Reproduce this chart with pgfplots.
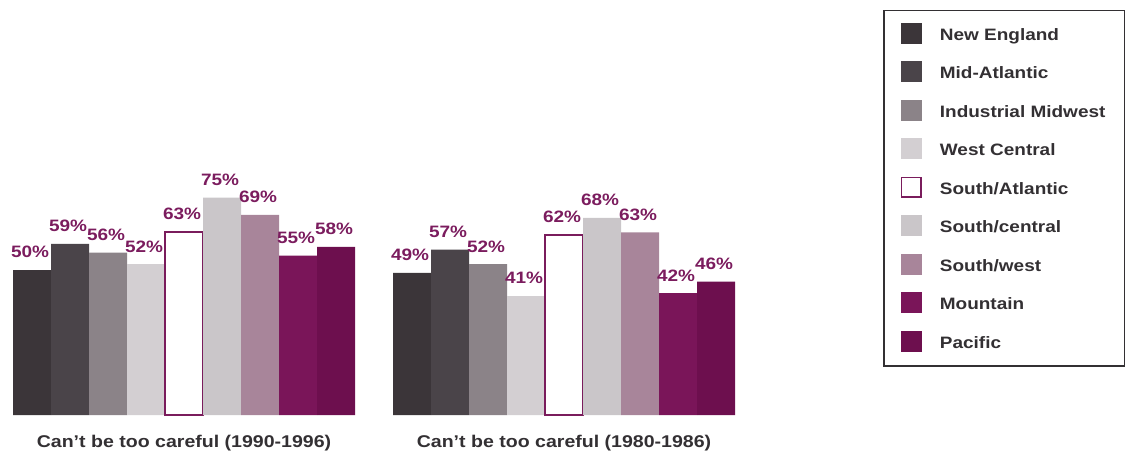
\documentclass[border=0pt]{standalone}
\usepackage{fontspec}
\setmainfont{Liberation Sans}[FakeStretch=1.15]
\usepackage{pgfplots}
\pgfplotsset{compat=1.18}

\definecolor{cNE}{HTML}{3B3539}
\definecolor{cMA}{HTML}{4A4449}
\definecolor{cIM}{HTML}{8B8388}
\definecolor{cWC}{HTML}{D3CFD2}
\definecolor{cSA}{HTML}{7A1C5C}
\definecolor{cSC}{HTML}{CAC6C9}
\definecolor{cSW}{HTML}{A8859A}
\definecolor{cMO}{HTML}{7A1559}
\definecolor{cPA}{HTML}{6D0F4E}
\definecolor{valtxt}{HTML}{7B1C5E}
\definecolor{labtxt}{HTML}{333033}

\begin{document}
\begin{tikzpicture}[x=1pt,y=1pt]
\useasboundingbox (0,0) rectangle (1128,456);
\begin{axis}[
  at={(13pt,41pt)}, anchor=south west,
  scale only axis, width=722pt, height=290pt,
  xmin=-0.5, xmax=18.5, ymin=0, ymax=100,
  ybar, bar width=1, bar shift=0pt,
  legend image code/.code={\fill[#1] (0pt,-7.5pt) rectangle (21pt,13.5pt);},
  axis y line=none, axis x line=bottom,
  x axis line style={draw=none},
  xtick={4,14},
  xticklabels={Can't be too careful (1990-1996), Can't be too careful (1980-1986)},
  major tick length=0pt,
  xticklabel style={anchor=base, yshift=-32pt, font=\fontsize{17}{20}\selectfont\bfseries, text=labtxt},
  /pgf/number format/assume math mode=true,
  nodes near coords={\pgfmathprintnumber{\pgfplotspointmeta}\%},
  every node near coord/.append style={anchor=south, inner sep=0pt, text depth=0pt,
    yshift=12pt, xshift=-2pt, font=\fontsize{16.5}{19}\selectfont\bfseries, text=valtxt},
  legend style={at={(1.5402,1.3966)}, anchor=north east,
    draw=labtxt, line width=1.2pt, fill=white,
    inner xsep=17pt, inner ysep=12pt,
    row sep=15pt, column sep=16pt,
    nodes={inner sep=2pt, text height=12pt, text depth=4pt,
      font=\fontsize{16.5}{19}\selectfont\bfseries, text=labtxt}},
  legend cell align=left,
]
\addplot[fill=cNE, draw=none] coordinates {(0,50) (10,49)};
\addlegendentry{New England}
\addplot[fill=cMA, draw=none] coordinates {(1,59) (11,57)};
\addlegendentry{Mid-Atlantic}
\addplot[fill=cIM, draw=none] coordinates {(2,56) (12,52)};
\addlegendentry{Industrial Midwest}
\addplot[fill=cWC, draw=none] coordinates {(3,52) (13,41)};
\addlegendentry{West Central}
\addplot[fill=white, draw=cSA, line width=1.8pt,
  legend image code/.code={\draw[fill=white, draw=cSA, line width=1.5pt]
    (0.75pt,-6.75pt) rectangle (20.25pt,12.75pt);}]
  coordinates {(4,63) (14,62)};
\addlegendentry{South/Atlantic}
\addplot[fill=cSC, draw=none] coordinates {(5,75) (15,68)};
\addlegendentry{South/central}
\addplot[fill=cSW, draw=none] coordinates {(6,69) (16,63)};
\addlegendentry{South/west}
\addplot[fill=cMO, draw=none] coordinates {(7,55) (17,42)};
\addlegendentry{Mountain}
\addplot[fill=cPA, draw=none] coordinates {(8,58) (18,46)};
\addlegendentry{Pacific}
\end{axis}
\end{tikzpicture}
\end{document}
